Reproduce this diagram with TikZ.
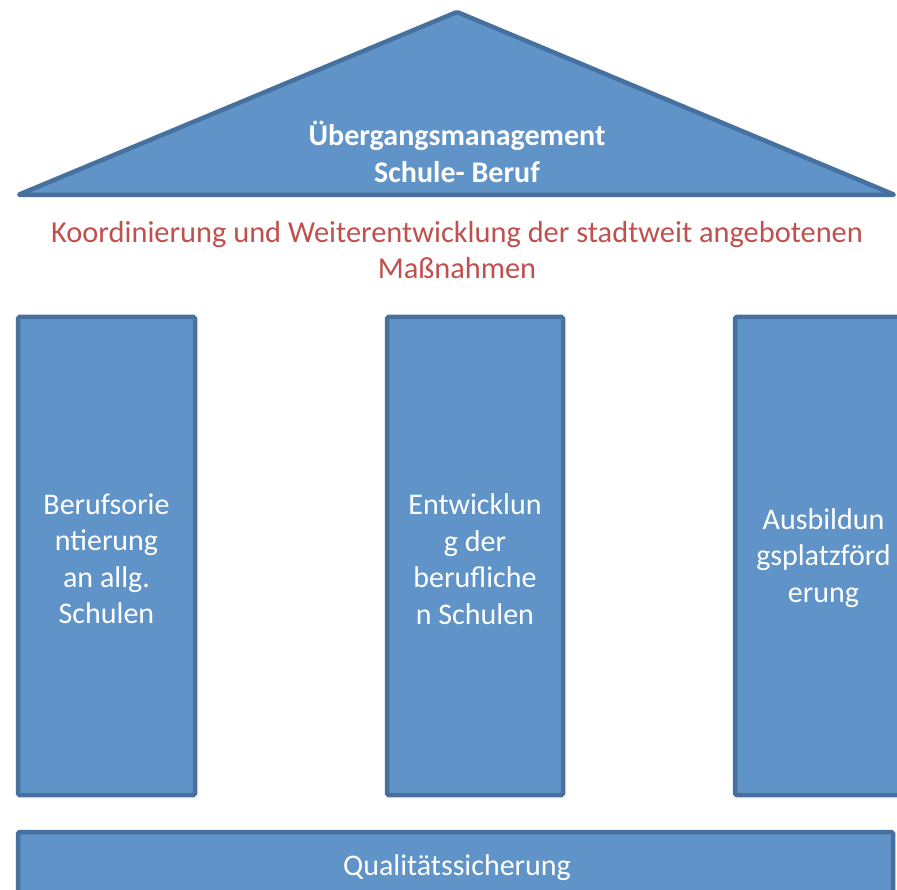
\documentclass[tikz,border=0pt]{standalone}
\usepackage{fontspec}
\setmainfont{Carlito}
\definecolor{boxfill}{HTML}{6094C8}
\definecolor{boxedge}{HTML}{46709E}
\definecolor{redtext}{HTML}{C0504D}
\begin{document}
\begin{tikzpicture}[x=1pt,y=-1pt,
  pillar/.style={draw=boxedge,fill=boxfill,line width=4.5pt,rounded corners=1.5pt},
  ptext/.style={text=white,align=center,font=\fontsize{30}{36.5}\selectfont},
]
\useasboundingbox (0,0) rectangle (897,890);
\clip (0,0) rectangle (897,890);
% roof
\draw[pillar,line join=round] (18,195) -- (457,12) -- (895,195) -- cycle;
\node[ptext,font=\bfseries\fontsize{30}{36.5}\selectfont] (roof) at (457,152) {Übergangsmanagement\\Schule- Beruf};
% subtitle
\node[align=center,text=redtext,font=\fontsize{30.4}{36.5}\selectfont] (sub) at (457,250) {Koordinierung und Weiterentwicklung der stadtweit angebotenen\\Maßnahmen};
% pillars
\draw[pillar] (18,317) rectangle (195,795);
\node[ptext] (p1) at (106.5,559) {Berufsorie\\ntierung\\an allg.\\Schulen};
\draw[pillar] (387,317) rectangle (563,795);
\node[ptext] (p2) at (475,559) {Entwicklun\\g der\\berufliche\\n Schulen};
\draw[pillar] (735,317) rectangle (912,795);
\node[ptext] (p3) at (823.5,558) {Ausbildun\\gsplatzförd\\erung};
% base
\draw[pillar] (18,832) rectangle (893,905);
\node[ptext] (base) at (457,868) {Qualitätssicherung};
\end{tikzpicture}
\end{document}
